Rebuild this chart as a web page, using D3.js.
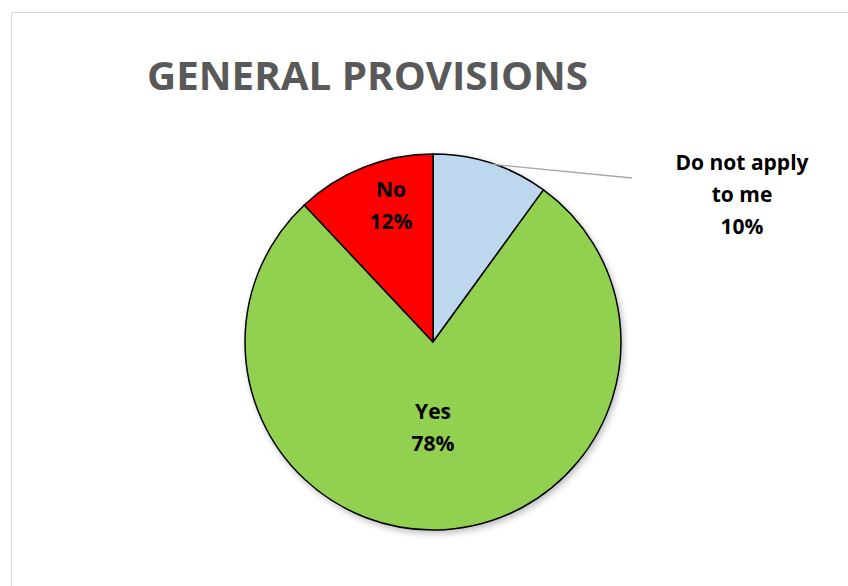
<!DOCTYPE html>
<html>
<head>
<meta charset="utf-8">
<script src="https://cdn.jsdelivr.net/npm/d3@7"></script>
<style>
  html, body { margin: 0; padding: 0; background: #fff; }
  svg { display: block; font-family: "Open Sans", Lato, sans-serif; }
</style>
</head>
<body>
<svg id="chart" width="848" height="586"></svg>
<script>
// Survey answers, clockwise from 12 o'clock
const categories = ["Do not apply to me", "Yes", "No"];
const values = [10, 78, 12];
const colors = ["#BDD7EE", "#92D050", "#FF0000"];
const labelLines = [["Do not apply", "to me", "10%"], ["Yes", "78%"], ["No", "12%"]];

const svg = d3.select("#chart");
const W = 848, H = 586;
const cx = 433, cy = 342, r = 188;

// chart area frame
svg.append("rect")
  .attr("x", 11.5).attr("y", 12.5)
  .attr("width", W).attr("height", H)
  .attr("fill", "#fff").attr("stroke", "#d9d9d9").attr("stroke-width", 1);

svg.append("text")
  .attr("x", 147).attr("y", 90)
  .attr("font-size", 39).attr("font-weight", 700)
  .attr("fill", "#595959")
  .attr("textLength", 441).attr("lengthAdjust", "spacingAndGlyphs")
  .text("GENERAL PROVISIONS");

const defs = svg.append("defs");
const f = defs.append("filter").attr("id", "shadow")
  .attr("x", "-20%").attr("y", "-20%").attr("width", "140%").attr("height", "140%");
f.append("feDropShadow").attr("dx", 2).attr("dy", 3).attr("stdDeviation", 3)
  .attr("flood-color", "#000").attr("flood-opacity", 0.25);

const pie = d3.pie().sort(null).value(d => d)(values);
const arc = d3.arc().innerRadius(0).outerRadius(r);

const g = svg.append("g").attr("transform", `translate(${cx},${cy})`);
const gShadow = g.append("g").attr("filter", "url(#shadow)");
gShadow.selectAll("path").data(pie).join("path")
  .attr("d", arc)
  .attr("fill", (d, i) => colors[i])
  .attr("stroke", "#000").attr("stroke-width", 1.5)
  .attr("stroke-linejoin", "round");

// label positions: inside for Yes / No, outside with leader for the small slice
const lineH = 32;
pie.forEach((d, i) => {
  let x, y;
  if (i === 0) {
    x = 742 - cx; y = 163 - cy;
    const mid = (d.startAngle + d.endAngle) / 2;
    const px = Math.sin(mid) * r, py = -Math.cos(mid) * r;
    g.append("line")
      .attr("x1", px).attr("y1", py + 1)
      .attr("x2", 632 - cx).attr("y2", 178 - cy)
      .attr("stroke", "#a6a6a6").attr("stroke-width", 1.3);
  } else if (i === 1) {
    x = 0; y = 412 - cy;
  } else {
    x = 391 - cx; y = 190 - cy;
  }
  const t = g.append("text")
    .attr("text-anchor", "middle")
    .attr("font-size", 21).attr("font-weight", 700)
    .attr("fill", "#000");
  labelLines[i].forEach((s, k) => {
    t.append("tspan").attr("x", x).attr("y", y + k * lineH + 7).text(s);
  });
});
</script>
</body>
</html>
